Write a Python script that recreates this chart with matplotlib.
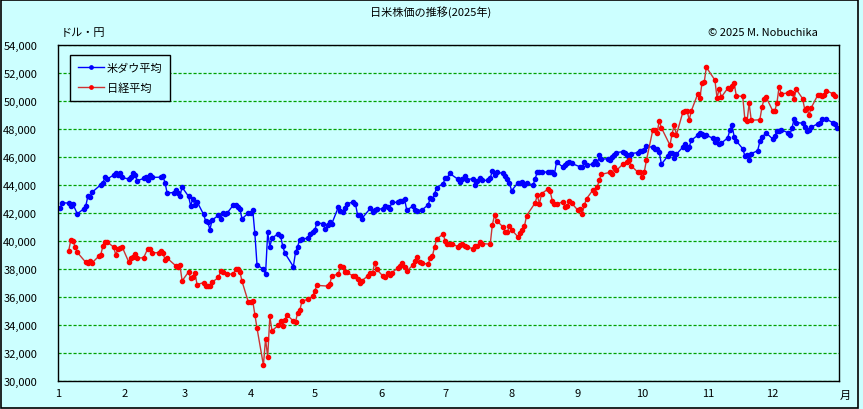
import matplotlib
matplotlib.use("Agg")
import matplotlib.pyplot as plt
import pandas as pd

plt.rcParams['font.family'] = ['Noto Sans CJK JP', 'DejaVu Sans']

# dow jones close, 2025
dow_dates = [
  "01-02","01-03","01-06","01-07","01-08","01-10","01-13","01-14","01-15","01-16","01-17",
  "01-21","01-22","01-23","01-24","01-27","01-28","01-29","01-30","01-31",
  "02-03","02-04","02-05","02-06","02-07","02-10","02-11","02-12","02-13","02-14",
  "02-18","02-19","02-20","02-21","02-24","02-25","02-26","02-27","02-28",
  "03-03","03-04","03-05","03-06","03-07","03-10","03-11","03-12","03-13","03-14",
  "03-17","03-18","03-19","03-20","03-21","03-24","03-25","03-26","03-27","03-28","03-31",
  "04-01","04-02","04-03","04-04","04-07","04-08","04-09","04-10","04-11","04-14",
  "04-15","04-16","04-17","04-21","04-22","04-23","04-24","04-25","04-28","04-29","04-30",
  "05-01","05-02","05-05","05-06","05-07","05-08","05-09","05-12","05-13","05-14",
  "05-15","05-16","05-19","05-20","05-21","05-22","05-23","05-27","05-28","05-29","05-30",
  "06-02","06-03","06-04","06-05","06-06","06-09","06-10","06-11","06-12","06-13",
  "06-16","06-17","06-18","06-20","06-23","06-24","06-25","06-26","06-27","06-30",
  "07-01","07-02","07-03","07-07","07-08","07-09","07-10","07-11","07-14","07-15",
  "07-16","07-17","07-18","07-21","07-22","07-23","07-24","07-25","07-28","07-29","07-30","07-31",
  "08-01","08-04","08-05","08-06","08-07","08-08","08-11","08-12","08-13","08-14","08-15",
  "08-18","08-19","08-20","08-21","08-22","08-25","08-26","08-27","08-28","08-29",
  "09-02","09-03","09-04","09-05","09-08","09-09","09-10","09-11","09-12","09-15",
  "09-16","09-17","09-18","09-19","09-22","09-23","09-24","09-25","09-26","09-29","09-30",
  "10-01","10-02","10-03","10-06","10-07","10-08","10-09","10-10","10-13","10-14",
  "10-15","10-16","10-17","10-20","10-21","10-22","10-23","10-24","10-27","10-28",
  "10-29","10-30","10-31",
  "11-03","11-04","11-05","11-06","11-07","11-10","11-11","11-12","11-13","11-14",
  "11-17","11-18","11-19","11-20","11-21","11-24","11-25","11-26","11-28",
  "12-01","12-02","12-03","12-04","12-05","12-08","12-09","12-10","12-11","12-12",
  "12-15","12-16","12-17","12-18","12-19","12-22","12-23","12-24","12-26","12-29","12-30","12-31"]
dow_values = [
  42392,42732,42706,42528,42635,41938,42297,42518,43222,43153,43488,
  44025,44157,44565,44424,44714,44850,44714,44882,44545,
  44422,44556,44873,44747,44303,44470,44594,44369,44711,44546,
  44556,44628,44177,43428,43461,43621,43433,43240,43841,
  43191,42521,43007,42579,42802,41912,41433,41350,40813,41488,
  41841,41582,41965,41953,41985,42583,42588,42455,42300,41584,42002,
  41990,42226,40545,38315,37966,37646,40609,39594,40213,40525,
  40369,39669,39142,38171,39187,39607,40093,40114,40228,40528,40669,
  40753,41317,41219,40829,41114,41368,41249,42410,42141,42051,
  42323,42655,42792,42677,41860,41859,41603,42343,42098,42216,42270,
  42305,42520,42428,42320,42763,42762,42867,42866,42968,42198,
  42515,42215,42172,42207,42582,43089,42982,43387,43819,44095,
  44495,44485,44829,44406,44241,44458,44651,44372,44460,44023,
  44255,44484,44342,44323,44502,45010,44694,44902,44838,44633,44461,44131,
  43589,44174,44112,44193,43969,44176,43975,44459,44922,44911,44946,
  44912,44922,44938,44786,45632,45282,45418,45565,45637,45545,
  45296,45271,45621,45401,45515,45711,45490,46108,45834,45884,
  45758,46018,46142,46315,46382,46292,46121,45947,46247,46316,46398,
  46441,46520,46758,46695,46603,46602,46358,45480,46068,46270,
  46253,45952,46191,46707,46925,46590,46735,47207,47545,47706,
  47632,47523,47563,
  47337,47085,47311,46912,46987,47369,47927,48254,47457,47147,
  46590,46092,46139,45752,46245,46448,47112,47427,47716,
  47289,47474,47883,47851,47955,47739,47560,48057,48704,48458,
  48416,48114,47886,47951,48134,48362,48442,48731,48710,48462,48367,48063]

# nikkei 225 close, 2025
nikkei_dates = [
  "01-06","01-07","01-08","01-09","01-10","01-14","01-15","01-16","01-17","01-20",
  "01-21","01-22","01-23","01-24","01-27","01-28","01-29","01-30","01-31",
  "02-03","02-04","02-05","02-06","02-07","02-10","02-12","02-13","02-14","02-17",
  "02-18","02-19","02-20","02-21","02-25","02-26","02-27","02-28",
  "03-03","03-04","03-05","03-06","03-07","03-10","03-11","03-12","03-13","03-14",
  "03-17","03-18","03-19","03-21","03-24","03-25","03-26","03-27","03-28","03-31",
  "04-01","04-02","04-03","04-04","04-07","04-08","04-09","04-10","04-11","04-14",
  "04-15","04-16","04-17","04-18","04-21","04-22","04-23","04-24","04-25","04-28","04-30",
  "05-01","05-02","05-07","05-08","05-09","05-12","05-13","05-14","05-15","05-16",
  "05-19","05-20","05-21","05-22","05-23","05-26","05-27","05-28","05-29","05-30",
  "06-02","06-03","06-04","06-05","06-06","06-09","06-10","06-11","06-12","06-13",
  "06-16","06-17","06-18","06-19","06-20","06-23","06-24","06-25","06-26","06-27","06-30",
  "07-01","07-02","07-03","07-04","07-07","07-08","07-09","07-10","07-11","07-14",
  "07-15","07-16","07-17","07-18","07-22","07-23","07-24","07-25","07-28","07-29","07-30","07-31",
  "08-01","08-04","08-05","08-06","08-07","08-08","08-12","08-13","08-14","08-15",
  "08-18","08-19","08-20","08-21","08-22","08-25","08-26","08-27","08-28","08-29",
  "09-01","09-02","09-03","09-04","09-05","09-08","09-09","09-10","09-11","09-12",
  "09-16","09-17","09-18","09-19","09-22","09-24","09-25","09-26","09-29","09-30",
  "10-01","10-02","10-03","10-06","10-07","10-08","10-09","10-10","10-14","10-15",
  "10-16","10-17","10-20","10-21","10-22","10-23","10-24","10-27","10-28","10-29","10-30","10-31",
  "11-04","11-05","11-06","11-07","11-10","11-11","11-12","11-13","11-14","11-17",
  "11-18","11-19","11-20","11-21","11-25","11-26","11-27","11-28",
  "12-01","12-02","12-03","12-04","12-05","12-08","12-09","12-10","12-11","12-12",
  "12-15","12-16","12-17","12-18","12-19","12-22","12-23","12-24","12-25","12-26","12-29","12-30"]
nikkei_values = [
  39307,40083,39981,39605,39190,38474,38445,38572,38451,38903,
  39027,39646,39959,39931,39566,39016,39414,39513,39572,
  38520,38798,38831,39067,38787,38801,39463,39461,39149,39174,
  39270,39164,38678,38776,38237,38142,38256,37155,
  37785,37331,37418,37704,36887,37028,36793,36819,36790,37053,
  37396,37845,37751,37677,37608,38027,38027,37799,37120,35617,
  35624,35725,34736,33781,31136,33012,31714,34609,33586,33982,
  34268,33921,34377,34730,34280,34220,34869,35039,35705,35840,36045,
  36452,36831,36780,36928,37503,37644,38183,38128,37755,37753,
  37498,37529,37299,36986,37160,37532,37724,37722,38432,37965,
  37470,37446,37747,37554,37741,38088,38211,38421,38173,37834,
  38311,38536,38885,38488,38403,38354,38790,38942,39584,40150,40487,
  39986,39762,39785,39810,39587,39688,39821,39646,39570,39459,
  39678,39663,39901,39819,39774,41171,41826,41456,40998,40674,40654,41069,
  40799,40290,40549,40794,41059,41820,42718,43274,42649,43378,
  43714,43546,42888,42610,42633,42807,42394,42520,42828,42718,
  42188,42310,41938,42580,43018,43644,43459,43837,44372,44768,
  44902,44790,45303,45045,45493,45630,45754,45354,44913,44932,
  44550,44936,45769,47944,47950,47734,48580,48088,46847,47672,
  48277,47582,49185,49316,49307,48641,49299,50512,50219,51307,51325,52411,
  51497,50212,50883,50276,50911,50842,51063,51281,50376,50323,
  48702,48537,49823,48625,48659,49559,50167,50253,
  49303,49303,49864,51028,50491,50581,50655,50602,50148,50837,
  50168,49383,49512,49001,49507,50402,50412,50345,50407,50750,50526,50339]

month_labels = ["1","2","3","4","5","6","7","8","9","10","11","12"]
y_ticks = list(range(30000, 54001, 2000))

bg = '#ccffff'


def day_of_year(dates):
  d = pd.to_datetime(["2025-" + s for s in dates])
  return (d - pd.Timestamp("2025-01-01")).days.values


fig = plt.figure(figsize=(8.63, 4.10), dpi=100, facecolor=bg)
ax = fig.add_axes([58/863, 1 - 382/410, 781/863, 336/410])
ax.set_facecolor(bg)

ax.plot(day_of_year(dow_dates), dow_values, color='#0000ff', lw=1.0,
        marker='o', ms=3.0, mfc='#0000ff', mec='#0000ff', label='米ダウ平均')
ax.plot(day_of_year(nikkei_dates), nikkei_values, color='#cc3333', lw=1.0,
        marker='o', ms=3.0, mfc='#ff0000', mec='#ff0000', label='日経平均')

ax.set_xlim(0, 365)
ax.set_ylim(30000, 54000)
month_starts = (pd.date_range("2025-01-01", periods=12, freq="MS") - pd.Timestamp("2025-01-01")).days
ax.set_xticks(month_starts)
ax.set_xticklabels(month_labels)
ax.set_yticks(y_ticks)
ax.set_yticklabels(["{:,}".format(v) for v in y_ticks])
ax.tick_params(axis='both', length=0, labelsize=8, colors='black')
ax.tick_params(axis='y', pad=15)
ax.tick_params(axis='x', pad=5)
ax.yaxis.grid(True, color='#00a000', ls=(0, (2.5, 1.5)), lw=0.9)
ax.set_axisbelow(True)
for s in ax.spines.values():
  s.set_color('black')
  s.set_linewidth(1.0)

leg = ax.legend(loc='upper left', bbox_to_anchor=(12/781, 326/336), borderaxespad=0,
                fontsize=8, fancybox=False, framealpha=1, facecolor=bg, edgecolor='black',
                handlelength=2.4, handletextpad=0.2, labelspacing=0.85, numpoints=1,
                markerscale=0.8, borderpad=0.7)
leg.get_frame().set_linewidth(1.0)

fig.text(431/863, 1 - 12/410, '日米株価の推移(2025年)', ha='center', va='center', fontsize=8)
fig.text(61/863, 1 - 33/410, 'ドル・円', ha='left', va='center', fontsize=8)
fig.text(818/863, 1 - 33/410, '© 2025 M. Nobuchika', ha='right', va='center', fontsize=8)
fig.text(845/863, 1 - 396/410, '月', ha='center', va='center', fontsize=8)

# outer frame
fig.patches.append(plt.Rectangle((0.001, 0.002), 0.993, 0.996, transform=fig.transFigure,
                                 fill=False, edgecolor='black', lw=1.2))

fig.savefig('out.png', dpi=100, facecolor=bg)
